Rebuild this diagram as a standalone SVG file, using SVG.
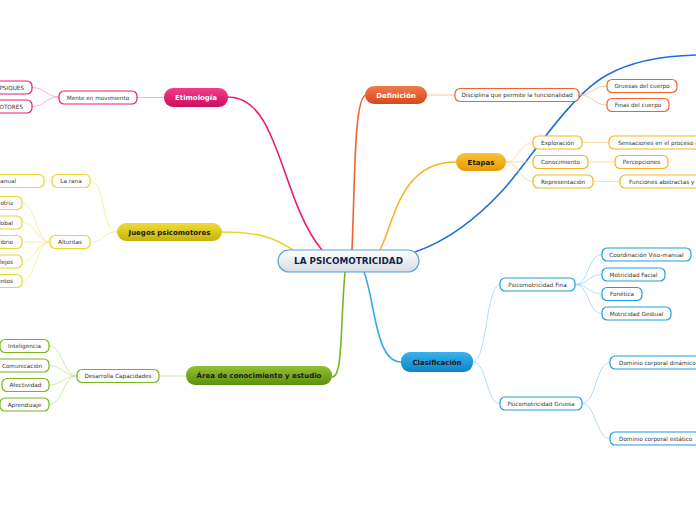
<svg xmlns="http://www.w3.org/2000/svg" width="696" height="520" viewBox="0 0 696 520">
<style>
text{font-family:"DejaVu Sans","Verdana",sans-serif;}
.s{font-size:5.7px;fill:#333;text-anchor:middle;}
.sl{font-size:5.7px;fill:#333;text-anchor:start;}
.se{font-size:5.7px;fill:#333;text-anchor:end;}
.m{font-size:7px;font-weight:bold;text-anchor:middle;}
.box{fill:#fff;stroke-width:1.2;}
.c{fill:none;}
.thin{stroke-width:0.8;fill:none;}
</style>
<defs>
<linearGradient id="gC" x1="0" y1="0" x2="0" y2="1"><stop offset="0" stop-color="#ffffff"/><stop offset="1" stop-color="#d6dde3"/></linearGradient>
<linearGradient id="gPk" x1="0" y1="0" x2="0" y2="1"><stop offset="0" stop-color="#f23d8a"/><stop offset="1" stop-color="#cf0c5e"/></linearGradient>
<linearGradient id="gOr" x1="0" y1="0" x2="0" y2="1"><stop offset="0" stop-color="#f47a4c"/><stop offset="1" stop-color="#d8481a"/></linearGradient>
<linearGradient id="gYo" x1="0" y1="0" x2="0" y2="1"><stop offset="0" stop-color="#fbc43a"/><stop offset="1" stop-color="#e49b00"/></linearGradient>
<linearGradient id="gYe" x1="0" y1="0" x2="0" y2="1"><stop offset="0" stop-color="#eedc3a"/><stop offset="1" stop-color="#c6b20c"/></linearGradient>
<linearGradient id="gGr" x1="0" y1="0" x2="0" y2="1"><stop offset="0" stop-color="#92c232"/><stop offset="1" stop-color="#5c9010"/></linearGradient>
<linearGradient id="gBl" x1="0" y1="0" x2="0" y2="1"><stop offset="0" stop-color="#3ab2ee"/><stop offset="1" stop-color="#0f84c6"/></linearGradient>
</defs>
<rect width="696" height="520" fill="#fff"/>
<g id="connectors">
<!-- main -->
<path class="c" d="M228,97 C280,97 280,200 322,250" stroke="#ec1a74" stroke-width="1.6"/>
<path class="c" d="M352,250 C355,180 354,97 366,95" stroke="#f06232" stroke-width="1.6"/>
<path class="c" d="M380,250 C395,220 400,162 456,162" stroke="#f8b420" stroke-width="1.6"/>
<path class="c" d="M415,252 C450,240 480,215 503,190 C530,160 570,95 607,75 C630,62 660,56 696,55" stroke="#1e6ee0" stroke-width="1.6"/>
<path class="c" d="M222,232 C260,232 275,238 293,250" stroke="#e8d632" stroke-width="1.6"/>
<path class="c" d="M345,272 C340,330 343,377 332,377" stroke="#7ab51d" stroke-width="1.6"/>
<path class="c" d="M364,272 C375,300 375,362 401,362" stroke="#36a9e8" stroke-width="1.6"/>
<!-- etimologia -->
<g stroke="#f8a2c6">
<path class="thin" d="M164,97.5 L137,97.5"/>
<path class="thin" d="M59,97 C45,97 46,87.5 32,87.5"/>
<path class="thin" d="M59,97 C45,97 46,106.5 32,106.5"/>
</g>
<!-- definicion -->
<g stroke="#f9b49c">
<path class="thin" d="M427,95 L455,95"/>
<path class="thin" d="M579,95 C593,95 593,86 607,86"/>
<path class="thin" d="M579,95 C593,95 593,105 607,105"/>
</g>
<!-- etapas -->
<g stroke="#fcd88c">
<path class="thin" d="M506,162 C519,162 519,142.5 533,142.5"/>
<path class="thin" d="M506,162 L533,162"/>
<path class="thin" d="M506,162 C519,162 519,181.5 533,181.5"/>
<path class="thin" d="M582,142.5 L609,142.5"/>
<path class="thin" d="M588,162 L615,162"/>
<path class="thin" d="M593,181.5 L620,181.5"/>
</g>
<!-- juegos -->
<g stroke="#f5ea8e">
<path class="thin" d="M117,232 C100,232 107,181 90,181"/>
<path class="thin" d="M117,232 C100,232 107,242 90,242"/>
<path class="thin" d="M52,181 L44,181"/>
<path class="thin" d="M50,242 C36,242 36,203 22,203"/>
<path class="thin" d="M50,242 C36,242 36,222.5 22,222.5"/>
<path class="thin" d="M50,242 L22,242"/>
<path class="thin" d="M50,242 C36,242 36,261.5 22,261.5"/>
<path class="thin" d="M50,242 C36,242 36,281 22,281"/>
</g>
<!-- area -->
<g stroke="#c6e28e">
<path class="thin" d="M186,376 L159,376"/>
<path class="thin" d="M77,376 C63,376 63,346 49,346"/>
<path class="thin" d="M77,376 C63,376 63,365.5 49,365.5"/>
<path class="thin" d="M77,376 C63,376 63,385 49,385"/>
<path class="thin" d="M77,376 C63,376 63,404.5 49,404.5"/>
</g>
<!-- clasificacion -->
<g stroke="#9cd6f5">
<path class="thin" d="M473,362 C487,362 486,284.5 500,284.5"/>
<path class="thin" d="M473,362 C487,362 486,403.5 500,403.5"/>
<path class="thin" d="M575,284.5 C589,284.5 588,254.5 602,254.5"/>
<path class="thin" d="M575,284.5 C589,284.5 588,274.5 602,274.5"/>
<path class="thin" d="M575,284.5 C589,284.5 588,294 602,294"/>
<path class="thin" d="M575,284.5 C589,284.5 588,313.5 602,313.5"/>
<path class="thin" d="M582,403.5 C596,403.5 596,362.5 610,362.5"/>
<path class="thin" d="M582,403.5 C596,403.5 596,438.5 610,438.5"/>
</g>
</g>

<g id="center"><rect x="278" y="250" width="141" height="22" rx="11" fill="url(#gC)" stroke="#5aa2d8" stroke-width="1.2"/><text x="348.5" y="264.2" style="font-size:8.8px;font-weight:bold;fill:#14244a;text-anchor:middle">LA PSICOMOTRICIDAD</text></g>

<g id="etimologia"><rect x="164" y="88" width="64" height="19" rx="9" fill="url(#gPk)"/><text class="m" x="196" y="100.3" fill="#fff">Etimología</text></g>
<g id="definicion"><rect x="365" y="86" width="62" height="18" rx="9" fill="url(#gOr)"/><text class="m" x="396" y="97.8" fill="#fff">Definición</text></g>
<g id="etapas"><rect x="456" y="153" width="50" height="18" rx="9" fill="url(#gYo)"/><text class="m" x="481" y="165" fill="#1a1a1a">Etapas</text></g>
<g id="juegos"><rect x="117" y="223" width="105" height="18" rx="9" fill="url(#gYe)"/><text class="m" x="169.5" y="235" fill="#1a1a1a">Juegos psicomotores</text></g>
<g id="area"><rect x="186" y="366" width="146" height="19" rx="9" fill="url(#gGr)"/><text class="m" x="259" y="378.3" fill="#1a1a1a">Área de conocimiento y estudio</text></g>
<g id="clasificacion"><rect x="401" y="352" width="72" height="20" rx="9" fill="url(#gBl)"/><text class="m" x="437" y="364.5" fill="#1a1a1a">Clasificación</text></g>

<g stroke="#ec1a74">
<g id="mente"><rect class="box" x="59" y="91" width="78" height="13" rx="5"/><text class="s" x="98" y="99.5" stroke="none">Mente en movimiento</text></g>
<g id="psiques"><rect class="box" x="-10" y="81" width="42" height="13" rx="5"/><text class="se" x="24" y="89.5" stroke="none">PSIQUES</text></g>
<g id="motores"><rect class="box" x="-10" y="100" width="42" height="13" rx="5"/><text class="se" x="23" y="108.5" stroke="none">MOTORES</text></g>
</g>
<g stroke="#f06232">
<g id="disciplina"><rect class="box" x="455" y="88.5" width="124" height="13" rx="5"/><text class="s" x="517" y="97" stroke="none">Disciplina que permite la funcionalidad</text></g>
<g id="gruesas"><rect class="box" x="607" y="79.5" width="70" height="13" rx="5"/><text class="s" x="642" y="88" stroke="none">Gruesas del cuerpo</text></g>
<g id="finas"><rect class="box" x="607" y="98.5" width="62" height="13" rx="5"/><text class="s" x="638" y="107" stroke="none">Finas del cuerpo</text></g>
</g>
<g stroke="#f8b420">
<g id="exploracion"><rect class="box" x="533" y="136" width="49" height="13" rx="5"/><text class="s" x="557.5" y="144.5" stroke="none">Exploración</text></g>
<g id="conocimiento"><rect class="box" x="533" y="155.5" width="55" height="13" rx="5"/><text class="s" x="560.5" y="164" stroke="none">Conocimiento</text></g>
<g id="representacion"><rect class="box" x="533" y="175" width="60" height="13" rx="5"/><text class="s" x="563" y="183.5" stroke="none">Representación</text></g>
<g id="sensaciones"><rect class="box" x="609" y="136" width="100" height="13" rx="5"/><text class="sl" x="618" y="144.5" stroke="none">Sensaciones en el proceso m</text></g>
<g id="percepciones"><rect class="box" x="615" y="155.5" width="53" height="13" rx="5"/><text class="s" x="641.5" y="164" stroke="none">Percepciones</text></g>
<g id="funciones"><rect class="box" x="620" y="175" width="90" height="13" rx="5"/><text class="sl" x="629" y="183.5" stroke="none">Funciones abstractas y s</text></g>
</g>
<g stroke="#e8d632">
<g id="larana"><rect class="box" x="52" y="174.5" width="38" height="13" rx="5"/><text class="s" x="71" y="183" stroke="none">La rana</text></g>
<g id="manual"><rect class="box" x="-20" y="174.5" width="64" height="13" rx="5"/><text class="se" x="16" y="183" stroke="none">manual</text></g>
<g id="alturitas"><rect class="box" x="50" y="235.5" width="40" height="13" rx="5"/><text class="s" x="70" y="244" stroke="none">Alturitas</text></g>
<g id="a1"><rect class="box" x="-20" y="196.5" width="42" height="13" rx="5"/><text class="se" x="13" y="205" stroke="none">otriz</text></g>
<g id="a2"><rect class="box" x="-20" y="216" width="42" height="13" rx="5"/><text class="se" x="13" y="224.5" stroke="none">lobal</text></g>
<g id="a3"><rect class="box" x="-20" y="235.5" width="42" height="13" rx="5"/><text class="se" x="13" y="244" stroke="none">librio</text></g>
<g id="a4"><rect class="box" x="-20" y="255" width="42" height="13" rx="5"/><text class="se" x="13" y="263.5" stroke="none">flejos</text></g>
<g id="a5"><rect class="box" x="-20" y="274.5" width="42" height="13" rx="5"/><text class="se" x="13" y="283" stroke="none">entos</text></g>
</g>
<g stroke="#7ab51d">
<g id="desarrolla"><rect class="box" x="77" y="369.5" width="82" height="13" rx="5"/><text class="s" x="118" y="378" stroke="none">Desarrolla Capacidades</text></g>
<g id="inteligencia"><rect class="box" x="0" y="339.5" width="49" height="13" rx="5"/><text class="s" x="24.5" y="348" stroke="none">Inteligencia</text></g>
<g id="comunicacion"><rect class="box" x="-5" y="359" width="54" height="13" rx="5"/><text class="s" x="22" y="367.5" stroke="none">Comunicación</text></g>
<g id="afectividad"><rect class="box" x="2" y="378.5" width="47" height="13" rx="5"/><text class="s" x="25.5" y="387" stroke="none">Afectividad</text></g>
<g id="aprendizaje"><rect class="box" x="0" y="398" width="49" height="13" rx="5"/><text class="s" x="24.5" y="406.5" stroke="none">Aprendizaje</text></g>
</g>
<g stroke="#1e9ee0">
<g id="fina"><rect class="box" x="500" y="278" width="75" height="13" rx="5"/><text class="s" x="537.5" y="286.5" stroke="none">Psicomotricidad Fina</text></g>
<g id="coordinacion"><rect class="box" x="602" y="248" width="89" height="13" rx="5"/><text class="s" x="646.5" y="256.5" stroke="none">Coordinación Viso-manual</text></g>
<g id="facial"><rect class="box" x="602" y="268" width="63" height="13" rx="5"/><text class="s" x="633.5" y="276.5" stroke="none">Motricidad Facial</text></g>
<g id="fonetica"><rect class="box" x="602" y="287.5" width="40" height="13" rx="5"/><text class="s" x="622" y="296" stroke="none">Fonética</text></g>
<g id="gestual"><rect class="box" x="602" y="307" width="69" height="13" rx="5"/><text class="s" x="636.5" y="315.5" stroke="none">Motricidad Gestual</text></g>
<g id="gruesa"><rect class="box" x="500" y="397" width="82" height="13" rx="5"/><text class="s" x="541" y="405.5" stroke="none">Psicomotricidad Gruesa</text></g>
<g id="dinamico"><rect class="box" x="610" y="356" width="100" height="13" rx="5"/><text class="sl" x="619" y="364.5" stroke="none">Dominio corporal dinámico</text></g>
<g id="estatico"><rect class="box" x="610" y="432" width="100" height="13" rx="5"/><text class="sl" x="619" y="440.5" stroke="none">Dominio corporal estático</text></g>
</g>
</svg>
